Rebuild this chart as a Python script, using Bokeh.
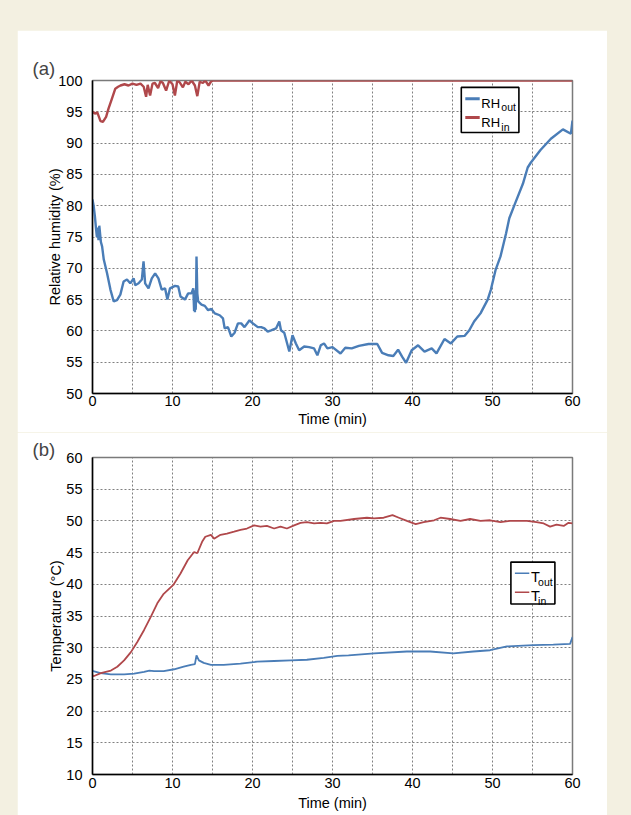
from bokeh.plotting import figure
from bokeh.models import SingleIntervalTicker, Range1d, Label
from bokeh.layouts import column
from bokeh.embed import file_html
from bokeh.resources import INLINE

# ---------------- data ----------------
t_rh_out = [0, 0.15, 0.3, 0.45, 0.55, 0.65, 0.75, 0.85, 0.95, 1.05, 1.2, 1.41, 1.82, 2.24, 2.65,
            3.06, 3.48, 3.89, 4.31, 4.72, 5.14, 5.34, 5.76, 6.17, 6.38, 6.58, 7.0, 7.41, 7.83, 8.24,
            8.65, 9.07, 9.36, 9.69, 10.31, 10.72, 11.0, 11.55, 11.96, 12.38, 12.6, 12.7, 12.75, 12.8,
            12.85, 12.9, 12.95, 13.0, 13.1, 13.21, 13.62, 14.04, 14.45, 14.86, 15.28, 15.9, 16.31,
            16.52, 16.93, 17.35, 17.76, 18.18, 18.59, 19.0, 19.63, 20.04, 20.66, 21.08, 21.49, 21.9,
            22.32, 22.94, 23.35, 23.56, 23.97, 24.39, 24.6, 25.0, 25.42, 25.83, 26.46, 27.08, 27.7,
            28.11, 28.53, 28.94, 29.36, 30.0, 31.0, 31.6, 32.4, 33.3, 34.5, 35.6, 36.2, 37.0, 37.6,
            38.2, 38.7, 39.2, 39.9, 40.7, 41.5, 42.4, 43.0, 44.0, 44.8, 45.6, 46.5, 47.1, 47.7, 48.5,
            49.4, 49.8, 50.4, 51.0, 51.7, 52.1, 52.8, 53.8, 54.4, 54.8, 56.0, 57.3, 58.8, 59.8, 60.0]
rh_out = [81.0, 79.9, 78.3, 76.2, 75.0, 76.5, 74.5, 76.8, 75.5, 74.2, 73.5, 71.4, 69.2, 66.6, 64.7,
          64.9, 65.8, 67.9, 68.2, 67.6, 68.4, 67.3, 67.6, 68.2, 71.1, 67.6, 66.8, 68.4, 69.2, 68.4,
          66.6, 66.8, 65.0, 66.8, 67.2, 67.1, 65.5, 65.0, 66.0, 66.0, 66.8, 63.2, 66.5, 63.0,
          66.2, 63.4, 65.8, 71.9, 66.0, 64.7, 64.2, 64.0, 63.3, 63.5, 62.8, 62.5, 62.0,
          60.4, 60.6, 59.1, 59.7, 61.2, 61.2, 60.6, 61.7, 61.2, 60.6, 60.6, 60.4, 59.9,
          60.1, 60.4, 61.5, 60.1, 59.7, 57.7, 56.7, 59.3, 58.0, 56.9, 57.5, 57.4, 57.2,
          56.1, 57.7, 58.0, 57.2, 57.4, 56.4, 57.3, 57.2, 57.6, 57.9, 57.9, 56.5, 56.1, 56.0,
          57.0, 55.9, 54.9, 56.9, 57.7, 56.7, 57.2, 56.4, 58.7, 58.0, 59.1, 59.2, 60.1, 61.5, 62.8,
          65.0, 66.6, 69.8, 71.9, 75.6, 78.0, 80.3, 83.5, 86.1, 86.9, 88.9, 90.7, 92.2, 91.5, 93.6]

t_rh_in = [0, 0.3, 0.6, 1.0, 1.3, 1.7, 2.0, 2.4, 2.85, 3.2, 3.5, 4.0, 4.5, 5.0, 5.5, 6.0, 6.4, 6.7,
           6.9, 7.2, 7.5, 7.8, 8.2, 8.5, 8.8, 9.2, 9.6, 10.0, 10.3, 10.6, 10.9, 11.3, 11.6, 12.0,
           12.4, 12.8, 13.1, 13.4, 13.8, 14.1, 14.5, 14.8, 15.0, 60]
rh_in = [95.0, 94.7, 94.9, 93.5, 93.4, 94.2, 95.5, 97.0, 98.7, 99.0, 99.2, 99.4, 99.2, 99.5, 99.3,
         99.5, 99.0, 97.4, 99.3, 97.6, 99.5, 99.6, 98.8, 99.9, 99.6, 98.4, 100, 99.4, 97.6, 100,
         99.7, 98.9, 99.8, 99.4, 100, 99.2, 97.5, 99.8, 99.6, 100, 99.2, 99.8, 100, 100]

t_t_in = [0, 0.12, 1.04, 2.3, 3.1, 3.95, 4.8, 5.6, 6.45, 7.3, 8.1, 8.9, 10.1, 11.0, 11.9, 12.7, 13.1,
          13.7, 14.1, 14.8, 15.2, 16.0, 16.8, 17.7, 18.5, 19.3, 20.2, 21.0, 21.8, 22.7, 23.5, 24.3,
          25.2, 26.0, 26.8, 27.7, 28.5, 29.3, 30.2, 31.0, 32.7, 34.3, 35.2, 36.4, 37.5, 38.3, 39.3,
          40.4, 41.4, 42.7, 43.5, 44.7, 46.0, 47.2, 48.5, 49.7, 51.0, 52.2, 54.3, 55.5, 56.4, 57.2,
          58.0, 58.9, 59.5, 60.0]
temp_in = [25.7, 25.5, 26.0, 26.4, 27.0, 28.0, 29.3, 30.9, 32.8, 34.9, 37.0, 38.5, 39.9, 41.7, 43.8,
           45.1, 44.9, 46.7, 47.5, 47.8, 47.2, 47.8, 48.0, 48.3, 48.6, 48.8, 49.3, 49.1, 49.2, 48.8,
           49.1, 48.8, 49.3, 49.7, 49.8, 49.6, 49.7, 49.6, 50.0, 50.0, 50.3, 50.5, 50.4, 50.5, 50.9,
           50.5, 50.0, 49.5, 49.8, 50.1, 50.5, 50.3, 50.0, 50.3, 50.0, 50.1, 49.8, 50.0, 50.0, 49.8,
           49.6, 49.1, 49.4, 49.2, 49.7, 49.6]

t_t_out = [0, 0.1, 1.0, 2.3, 3.95, 5.2, 6.45, 7.1, 7.7, 8.9, 10.2, 11.4, 12.3, 12.8, 13.0, 13.3, 13.9,
           14.8, 16.4, 18.5, 20.6, 22.7, 24.8, 26.8, 28.9, 30.6, 32.0, 35.2, 39.3, 42.2, 45.1, 47.6,
           49.7, 51.8, 55.1, 57.6, 59.7, 60.0]
temp_out = [26.4, 26.3, 26.0, 25.8, 25.8, 25.9, 26.2, 26.4, 26.3, 26.3, 26.6, 27.0, 27.3, 27.4, 28.8,
            28.0, 27.6, 27.3, 27.3, 27.5, 27.8, 27.9, 28.0, 28.1, 28.4, 28.7, 28.8, 29.1, 29.4, 29.4,
            29.1, 29.4, 29.6, 30.2, 30.4, 30.5, 30.6, 31.7]

x_label = "Time (min)"
y_label_a = "Relative humidity (%)"
y_label_b = "Temperature (°C)"

# ---------------- style ----------------
FONT = "Liberation Sans"
BLUE = "#4a7db7"
RED = "#b0484b"
BEIGE = "#f3f0e1"
GRID = "#808080"


def make_fig(height, ymin, ymax, ylabel, title, mb, title_standoff, xtick_standoff,
             xlab_standoff, ylab_standoff):
    p = figure(width=590, height=height, output_backend="svg", toolbar_location=None,
               x_range=Range1d(0, 60), y_range=Range1d(ymin, ymax),
               min_border_left=mb[0], min_border_right=mb[1], min_border_top=mb[2],
               min_border_bottom=mb[3], background_fill_color="white",
               border_fill_color="white", outline_line_color="#7a7a7a",
               outline_line_width=1.5, title=title)
    p.title.align = "left"
    p.title.offset = -60
    p.title.text_font = FONT
    p.title.text_font_size = "18.5px"
    p.title.text_font_style = "normal"
    p.title.standoff = title_standoff
    p.xaxis.ticker = SingleIntervalTicker(interval=10, num_minor_ticks=0)
    p.yaxis.ticker = SingleIntervalTicker(interval=5, num_minor_ticks=0)
    p.xgrid.ticker = SingleIntervalTicker(interval=5, num_minor_ticks=0)
    p.ygrid.ticker = SingleIntervalTicker(interval=5, num_minor_ticks=0)
    for g in (p.xgrid, p.ygrid):
        g.grid_line_color = GRID
        g.grid_line_dash = "2 2"
        g.grid_line_width = 1
    for ax in (p.xaxis, p.yaxis):
        ax.axis_line_color = "black"
        ax.axis_line_width = 1.5
        ax.major_tick_line_color = None
        ax.minor_tick_line_color = None
        ax.major_label_text_font = FONT
        ax.major_label_text_font_size = "14.5px"
        ax.major_label_text_color = "black"
        ax.axis_label_text_font = FONT
        ax.axis_label_text_font_size = "14.5px"
        ax.axis_label_text_font_style = "normal"
        ax.axis_label_text_color = "black"
    p.xaxis.major_label_standoff = xtick_standoff
    p.yaxis.major_label_standoff = 4
    p.xaxis.axis_label = x_label
    p.yaxis.axis_label = ylabel
    p.xaxis.axis_label_standoff = xlab_standoff
    p.yaxis.axis_label_standoff = ylab_standoff
    return p


def add_legend(p, box, samples, mains, subs, main_size, sub_size, colors, lw):
    p.quad(left=[box[0]], right=[box[1]], top=[box[2]], bottom=[box[3]],
           fill_color="white", fill_alpha=1, line_color="black", line_width=1.6)
    (sx0, sx1), ys = samples
    for (y, color) in zip(ys, colors):
        p.segment(x0=[sx0], x1=[sx1], y0=[y], y1=[y], line_color=color, line_width=lw)
    for (x, y, txt) in mains:
        p.add_layout(Label(x=x, y=y, text=txt, text_font=FONT, text_font_size=main_size,
                           text_baseline="alphabetic", text_color="black"))
    for (x, y, txt) in subs:
        p.add_layout(Label(x=x, y=y, text=txt, text_font=FONT, text_font_size=sub_size,
                           text_baseline="alphabetic", text_color="black"))


# ---------------- (a) ----------------
pa = make_fig(402, 50, 100, y_label_a, "(a)", (75, 32, 50, 39), 4, -4, 2, -8)
pa.line(t_rh_out, rh_out, line_color=BLUE, line_width=2.4)
pa.line(t_rh_in, rh_in, line_color=RED, line_width=2.4)
add_legend(pa, (46.1, 53.3, 98.9, 91.7), ((46.6, 48.4), (97.1, 94.1)),
           [(48.6, 96.4, "RH"), (48.6, 93.3, "RH")],
           [(51.1, 95.8, "out"), (51.1, 92.6, "in")],
           "13px", "10.5px", (BLUE, RED), 3)

# ---------------- (b) ----------------
pb = make_fig(383, 10, 60, y_label_b, "(b)", (75, 35, 25, 41), -5, -3, 4, -1)
pb.line(t_t_out, temp_out, line_color=BLUE, line_width=1.8)
pb.line(t_t_in, temp_in, line_color=RED, line_width=1.8)
add_legend(pb, (52.3, 57.8, 43.5, 36.9), ((52.8, 54.6), (41.75, 38.75)),
           [(54.8, 41.1, "T"), (54.8, 38.1, "T")],
           [(55.7, 40.4, "out"), (55.7, 37.4, "in")],
           "14.5px", "10.5px", (BLUE, RED), 1.5)

pa.margin = (30, 24, 0, 17)
pb.margin = (0, 24, 0, 17)
layout = column(pa, pb, styles={"background-color": BEIGE}, spacing=0)

open("out.html", "w").write(file_html(layout, INLINE))
